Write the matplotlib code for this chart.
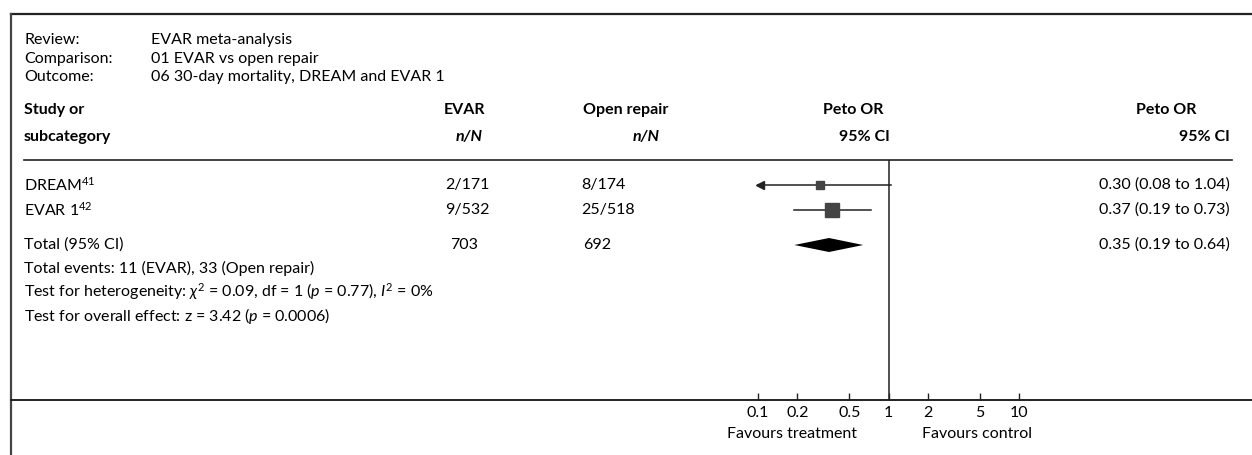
import numpy as np
import matplotlib
matplotlib.use("Agg")
import matplotlib.pyplot as plt

plt.rcParams['font.family'] = ['Lato', 'DejaVu Sans']
plt.rcParams['mathtext.fontset'] = 'custom'
plt.rcParams['mathtext.rm'] = 'Lato'
plt.rcParams['mathtext.it'] = 'Lato:italic'
plt.rcParams['mathtext.bf'] = 'Lato:bold'

# data
studies = ["DREAM$^{41}$", "EVAR 1$^{42}$"]
evar_n = [2, 9]
evar_N = [171, 532]
open_n = [8, 25]
open_N = [174, 518]
peto_or = [0.30, 0.37]
ci_low = [0.08, 0.19]
ci_high = [1.04, 0.73]
total_evar = 703
total_open = 692
total_or = 0.35
total_low = 0.19
total_high = 0.64
tick_vals = [0.1, 0.2, 0.5, 1, 2, 5, 10]
tick_labels = ["0.1", "0.2", "0.5", "1", "2", "5", "10"]

W, H = 1252, 455
fig = plt.figure(figsize=(W / 100, H / 100), dpi=100)
ax = fig.add_axes([0, 0, 1, 1])
ax.set_xlim(0, W)
ax.set_ylim(H, 0)
ax.axis("off")

dark = "#222222"
fs = 11.5

# frame lines
ax.plot([11, W], [14, 14], color=dark, lw=1.6)
ax.plot([11, 11], [14, H], color="#444444", lw=1.6)
ax.plot([11, W], [400, 400], color=dark, lw=1.4)
ax.plot([24, 1232], [160, 160], color=dark, lw=1.2)

# top info
info = [("Review:", "EVAR meta-analysis"),
        ("Comparison:", "01 EVAR vs open repair"),
        ("Outcome:", "06 30-day mortality, DREAM and EVAR 1")]
for i, (k, v) in enumerate(info):
    y = 40 + i * 18.5
    ax.text(24, y, k, fontsize=fs, va="center")
    ax.text(151, y, v, fontsize=fs, va="center")

# headers
ax.text(24, 110, "Study or", fontsize=fs, fontweight="bold", va="center")
ax.text(24, 137, "subcategory", fontsize=fs, fontweight="bold", va="center")
ax.text(485, 110, "EVAR", fontsize=fs, fontweight="bold", va="center", ha="right")
ax.text(483, 137, "n/N", fontsize=fs, fontweight="bold", style="italic", va="center", ha="right")
ax.text(668, 110, "Open repair", fontsize=fs, fontweight="bold", va="center", ha="right")
ax.text(660, 137, "n/N", fontsize=fs, fontweight="bold", style="italic", va="center", ha="right")
ax.text(883, 110, "Peto OR", fontsize=fs, fontweight="bold", va="center", ha="right")
ax.text(890, 137, "95% CI", fontsize=fs, fontweight="bold", va="center", ha="right")
ax.text(1196, 110, "Peto OR", fontsize=fs, fontweight="bold", va="center", ha="right")
ax.text(1230, 137, "95% CI", fontsize=fs, fontweight="bold", va="center", ha="right")

# forest axes: 0.1 -> x=758, 10 -> x=1019, y in pixels
fa = fig.add_axes([758 / W, (H - 400) / H, (1019 - 758) / W, (400 - 160) / H])
fa.set_xscale("log")
fa.set_xlim(0.1, 10)
fa.set_ylim(400, 160)
fa.patch.set_alpha(0)
for s in fa.spines.values():
    s.set_visible(False)
fa.set_yticks([])
fa.set_xticks(tick_vals)
fa.set_xticklabels(tick_labels)
fa.xaxis.set_minor_locator(matplotlib.ticker.NullLocator())
fa.tick_params(axis="x", direction="in", length=5, width=1, color=dark, pad=4, labelsize=fs)
fa.axvline(1, color=dark, lw=1.1)

row_y = [185, 210]
sq = np.sqrt(np.array(evar_n) + np.array(open_n))
for i in range(len(studies)):
    y = row_y[i]
    lo = max(ci_low[i], 0.1)
    fa.plot([lo, ci_high[i]], [y, y], color=dark, lw=1.1, clip_on=False)
    if ci_low[i] < 0.1:
        fa.plot([0.104], [y], marker="<", color=dark, ms=6, clip_on=False)
    fa.plot([peto_or[i]], [y], marker="s", color="#444444", ms=sq[i] * 1.7, clip_on=False)
    ax.text(24, y, studies[i], fontsize=fs, va="center")
    ax.text(445, y, f"{evar_n[i]}/{evar_N[i]}", fontsize=fs, va="center")
    ax.text(581, y, f"{open_n[i]}/{open_N[i]}", fontsize=fs, va="center")
    ax.text(1230, y, f"{peto_or[i]:.2f} ({ci_low[i]:.2f} to {ci_high[i]:.2f})",
            fontsize=fs, va="center", ha="right")

yt = 245
fa.fill([total_low, total_or, total_high, total_or], [yt, yt - 7, yt, yt + 7],
        color="black", lw=0)
ax.text(24, yt, "Total (95% CI)", fontsize=fs, va="center")
ax.text(450, yt, f"{total_evar}", fontsize=fs, va="center")
ax.text(583, yt, f"{total_open}", fontsize=fs, va="center")
ax.text(1230, yt, f"{total_or:.2f} ({total_low:.2f} to {total_high:.2f})",
        fontsize=fs, va="center", ha="right")

foot = ["Total events: 11 (EVAR), 33 (Open repair)",
        r"Test for heterogeneity: $\chi^2$ = 0.09, df = 1 ($\mathit{p}$ = 0.77), $\mathit{I}^2$ = 0%",
        r"Test for overall effect: z = 3.42 ($\mathit{p}$ = 0.0006)"]
for i, t in enumerate(foot):
    ax.text(24, 268 + i * 24, t, fontsize=fs, va="center")

ax.text(792, 434, "Favours treatment", fontsize=fs, va="center", ha="center")
ax.text(977, 434, "Favours control", fontsize=fs, va="center", ha="center")

fig.savefig("out.png", dpi=100)
